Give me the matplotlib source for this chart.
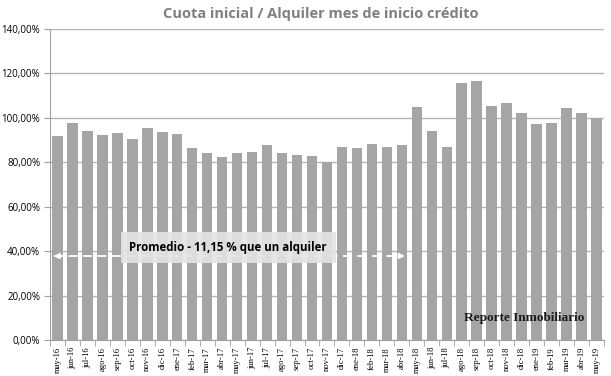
import matplotlib
matplotlib.use("Agg")
import matplotlib.pyplot as plt
from matplotlib.ticker import FuncFormatter, MultipleLocator, FixedLocator

# meses (may-16 .. may-19)
meses = ["may-16", "jun-16", "jul-16", "ago-16", "sep-16", "oct-16", "nov-16", "dic-16",
         "ene-17", "feb-17", "mar-17", "abr-17", "may-17", "jun-17", "jul-17", "ago-17",
         "sep-17", "oct-17", "nov-17", "dic-17", "ene-18", "feb-18", "mar-18", "abr-18",
         "may-18", "jun-18", "jul-18", "ago-18", "sep-18", "oct-18", "nov-18", "dic-18",
         "ene-19", "feb-19", "mar-19", "abr-19", "may-19"]

# cuota inicial / alquiler (%)
ratio = [91.8, 97.8, 94.2, 92.3, 93.0, 90.5, 95.4, 93.8,
         92.6, 86.5, 84.4, 82.5, 84.2, 84.6, 87.8, 84.1,
         83.1, 82.7, 80.1, 87.1, 86.5, 88.3, 87.1, 87.8,
         105.0, 94.3, 86.9, 115.5, 116.7, 105.4, 106.5, 102.4,
         97.1, 97.9, 104.4, 102.4, 100.0]

promedio_txt = "Promedio - 11,15 % que un alquiler"
flecha_y = 37.8          # altura de la flecha (%)
flecha_hasta = 23.4      # hasta abr-18 aprox.

fig = plt.figure(figsize=(6.11, 3.76), dpi=100)
ax = fig.add_axes([0.0818, 0.0957, 0.9885 - 0.0818, 0.9229 - 0.0957])

x = range(len(meses))
ax.bar(x, ratio, width=0.7, color="#a5a5a5", zorder=2)

ax.set_xlim(-0.5, len(meses) - 0.5)
ax.set_ylim(0, 140)
ax.yaxis.set_major_locator(MultipleLocator(20))
ax.yaxis.set_major_formatter(FuncFormatter(lambda v, p: f"{v:.2f}%".replace(".", ",")))
ax.grid(axis="y", color="#b4b4b4", linewidth=1.0, zorder=1)

ax.set_xticks(list(x))
ax.set_xticklabels(meses, rotation=90, fontsize=6.2, family="Liberation Serif")
ax.tick_params(axis="x", which="major", length=0, pad=5)
ax.xaxis.set_minor_locator(FixedLocator([i - 0.5 for i in range(len(meses) + 1)]))
ax.tick_params(axis="x", which="minor", length=4, color="#a0a0a0")
ax.tick_params(axis="y", length=4, color="#a0a0a0", labelsize=7, pad=3)
for lab in ax.get_yticklabels():
    lab.set_family("Open Sans")

for s in ["top", "right"]:
    ax.spines[s].set_visible(False)
ax.spines["left"].set_color("#a0a0a0")
ax.spines["bottom"].set_color("#a0a0a0")

fig.text(0.525, 0.963, "Cuota inicial / Alquiler mes de inicio crédito", ha="center", va="center",
         fontsize=10.5, fontweight="bold", color="#7f7f7f", family="Open Sans")

# flecha punteada con promedio
ax.plot([-0.2, flecha_hasta - 0.3], [flecha_y, flecha_y], color="white", lw=1.3,
        ls=(0, (5, 3)), zorder=3)
ax.annotate("", xy=(-0.45, flecha_y), xytext=(0.4, flecha_y),
            arrowprops=dict(arrowstyle="-|>", color="white", lw=1.3, mutation_scale=8), zorder=3)
ax.annotate("", xy=(flecha_hasta, flecha_y), xytext=(flecha_hasta - 0.8, flecha_y),
            arrowprops=dict(arrowstyle="-|>", color="white", lw=1.3, mutation_scale=8), zorder=3)
ax.text(11.4, 41.7, promedio_txt, ha="center", va="center", fontsize=8.3, fontweight="bold",
        family="Open Sans", color="black", zorder=4,
        bbox=dict(boxstyle="square,pad=0.75", facecolor="#e4e4e4", edgecolor="none", alpha=0.9))

# marca de agua
ax.text(0.965, 0.07, "Reporte Inmobiliario", transform=ax.transAxes, ha="right", va="center",
        fontsize=9.5, fontweight="bold", family="Liberation Serif", color="#1a1a1a", zorder=4)

fig.savefig("out.png", dpi=100)
